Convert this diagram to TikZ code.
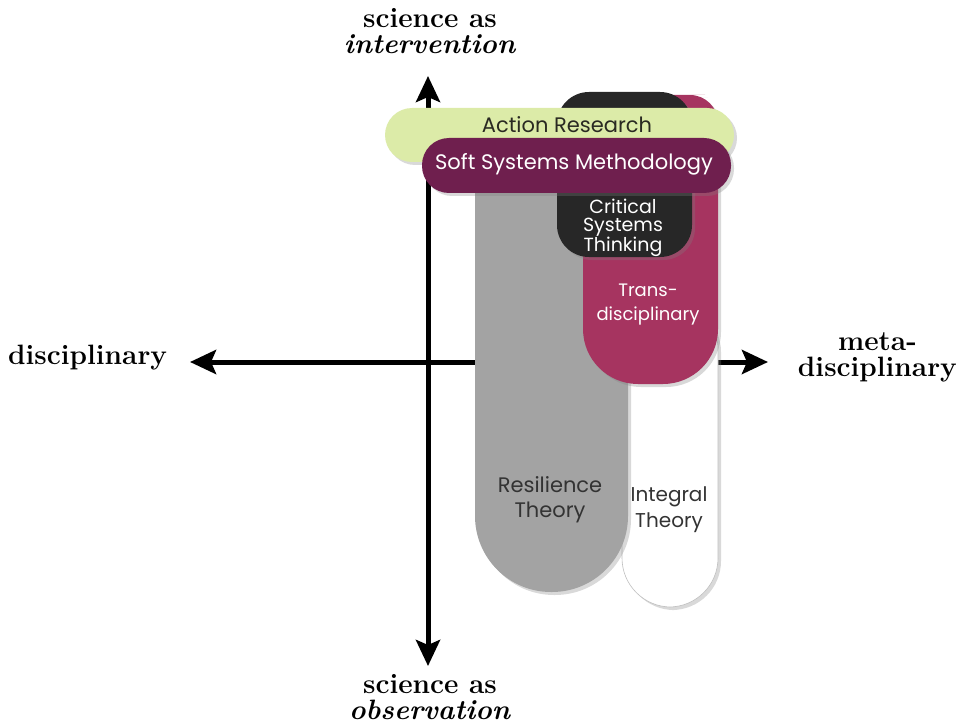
\documentclass[tikz,border=0pt]{standalone}
\usepackage{fontspec}
\newfontfamily\shapefont{Poppins}
\usetikzlibrary{arrows.meta,shadows}
\definecolor{arcol}{HTML}{DCEBA8}
\definecolor{artext}{HTML}{2A2A22}
\definecolor{ssmcol}{HTML}{6F1F4E}
\definecolor{trcol}{HTML}{A63460}
\definecolor{cstcol}{HTML}{272727}
\definecolor{rescol}{HTML}{A3A3A3}
\definecolor{restext}{HTML}{333333}
\begin{document}
\begin{tikzpicture}[x=1pt,y=-1pt,
  axis/.style={line width=5pt,{Stealth[length=26pt,width=24pt,inset=5pt]}-{Stealth[length=26pt,width=24pt,inset=5pt]}},
  shad/.style={drop shadow={opacity=0.3,shadow xshift=3pt,shadow yshift=-3pt}},
  axlabel/.style={font=\fontsize{28}{26}\selectfont\bfseries,align=center,inner sep=0pt},
  shapetext/.style={font=\shapefont\fontsize{21}{25}\selectfont,align=center,inner sep=0pt}]
\useasboundingbox (0,0) rectangle (965,727);
% axes
\coordinate (vtop) at (428,76);
\coordinate (vbot) at (428,666);
\coordinate (hl) at (190,362);
\coordinate (hr) at (768,362);
\draw[axis] (hl) -- (hr);
\draw[axis] (vbot) -- (vtop);
% shapes
\path[fill=white,shad,draw=black!25,line width=0.6pt,rounded corners=49pt] (622,300) rectangle (718,607);
\path[fill=rescol,shad,rounded corners=76pt] (475,110) rectangle (628,592);
\path[fill=trcol,shad] (650,95) [rounded corners=28pt] -- (718,95) [rounded corners=55pt] -- (718,384) -- (583,384) -- (583,95) -- cycle;
\path[fill=cstcol,shad,rounded corners=32pt] (557,92) rectangle (692,257);
\path[fill=arcol,shad,rounded corners=27pt] (385,108) rectangle (734,162);
\path[fill=ssmcol,shad,rounded corners=27pt] (422,138) rectangle (731,193);
% texts in shapes
\node[shapetext,text=artext] (ar) at (567,125) {Action Research};
\node[shapetext,text=white] (ssm) at (574,164) {Soft Systems Methodology};
\node[shapetext,text=white,font=\shapefont\fontsize{19}{18}\selectfont] (cst) at (623,228) {Critical\\Systems\\Thinking};
\node[shapetext,text=white,font=\shapefont\fontsize{18}{24}\selectfont] (tr) at (648,305) {Trans-\\disciplinary};
\node[shapetext,text=restext] (rt) at (550,500) {Resilience\\Theory};
\node[shapetext,text=restext,font=\shapefont\fontsize{20}{26}\selectfont] (it) at (669,510) {Integral\\Theory};
% axis labels
\node[axlabel] (top) at (430,31) {science as\\\textit{intervention}};
\node[axlabel] (bot) at (430,697) {science as\\\textit{observation}};
\node[axlabel,anchor=west] (left) at (8,358) {disciplinary};
\node[axlabel,anchor=east] (right) at (957,357) {meta-\\disciplinary};
\end{tikzpicture}
\end{document}
